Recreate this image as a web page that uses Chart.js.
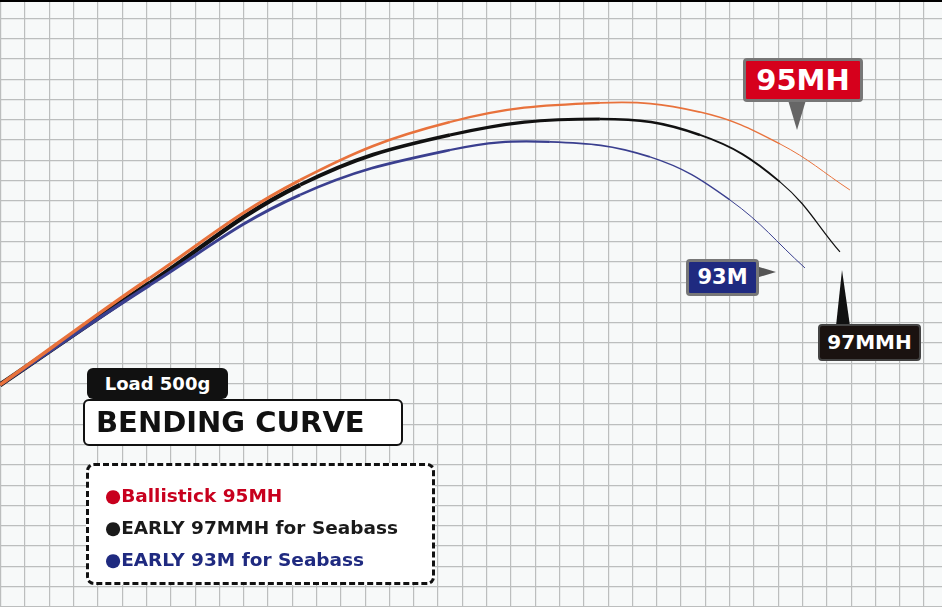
<!DOCTYPE html>
<html>
<head>
<meta charset="utf-8">
<script src="https://cdn.jsdelivr.net/npm/chart.js@4/dist/chart.umd.min.js"></script>
<style>
  body { margin: 0; background: #f7f9f9; font-family: "DejaVu Sans", sans-serif; }
  #wrap { position: relative; width: 942px; height: 607px; overflow: hidden; border-top: 2px solid #000; box-sizing: border-box; }
  .tag { position: absolute; color: #fff; font-weight: bold; text-align: center; border-radius: 4px; box-sizing: border-box; white-space: nowrap; }
  svg { position: absolute; left: 0; top: 0; }
</style>
</head>
<body>
<div id="wrap">
  <canvas id="myChart" width="942" height="605"></canvas>
  <svg width="942" height="607">
    <polygon points="788,98 806,98 797,128" fill="#666"/>
    <polygon points="756,264 756,276 776,270" fill="#555"/>
    <polygon points="836,324 850,324 842,268" fill="#111"/>
  </svg>
  <div class="tag" style="left:743px;top:56px;width:120px;height:44px;background:#d6001c;border:3px solid #777;font-size:29px;line-height:38px;">95MH</div>
  <div class="tag" style="left:686px;top:257px;width:73px;height:37px;background:#1f2a80;border:3px solid #777;font-size:21px;line-height:31px;">93M</div>
  <div class="tag" style="left:818px;top:322px;width:103px;height:37px;background:#1a1210;border:2px solid #444;font-size:20px;line-height:33px;">97MMH</div>
  <div class="tag" style="left:87px;top:366px;width:141px;height:31px;background:#111;border-radius:6px;font-size:18px;line-height:31px;">Load 500g</div>
  <div class="tag" style="left:83px;top:397px;width:320px;height:47px;background:#fff;border:2px solid #111;border-radius:6px;color:#111;font-size:29px;line-height:43px;text-align:left;padding-left:11px;">BENDING CURVE</div>
  <div style="position:absolute;left:86px;top:461px;width:349px;height:122px;border:3px dashed #111;border-radius:8px;background:#fff;box-sizing:border-box;font-weight:bold;font-size:18.5px;padding:14px 0 0 16px;line-height:32px;white-space:nowrap;">
    <div style="color:#c8001e;">●Ballistick 95MH</div>
    <div style="color:#1a1a1a;">●EARLY 97MMH for Seabass</div>
    <div style="color:#1f2a80;">●EARLY 93M for Seabass</div>
  </div>
</div>
<script>
// grid-cell units (x: 24.3px per cell, y: 20.3px per cell)
const xOrange = [0, 6.17, 12.35, 18.52, 24.69, 28.81, 32.10, 34.98];
const yOrange = [10.94, 16.21, 21.03, 23.89, 24.83, 24.38, 22.81, 20.54];

const xBlack = [0, 6.17, 12.35, 18.52, 24.69, 28.81, 32.10, 34.57];
const yBlack = [10.94, 15.96, 20.79, 23.25, 24.04, 23.25, 20.94, 17.49];

const xBlue = [0, 6.17, 12.35, 18.52, 22.63, 26.75, 30.04, 33.13];
const yBlue = [10.94, 15.86, 20.30, 22.51, 22.91, 22.17, 20.05, 16.70];

const toPts = (xs, ys) => xs.map((x, i) => ({ x: x, y: ys[i] }));

// grosor decrescente da vara
const taper = (w0, w1) => ctx => {
    const n = ctx.chart.data.datasets[ctx.datasetIndex].data.length;
    return w0 + (w1 - w0) * ctx.p0DataIndex / (n - 2);
};

const data = {
    datasets: [
        { data: toPts(xOrange, yOrange), borderColor: '#e8723c', segment: { borderWidth: taper(3.5, 1) } },
        { data: toPts(xBlue, yBlue), borderColor: '#3a3f8f', segment: { borderWidth: taper(3.5, 1) } },
        { data: toPts(xBlack, yBlack), borderColor: '#111111', segment: { borderWidth: taper(5, 1.2) } }
    ]
};

const gridTicks = (from, to, off) => axis => {
    axis.ticks = [];
    for (let v = from; v <= to; v++) axis.ticks.push({ value: v + off });
};

new Chart(document.getElementById('myChart'), {
    type: 'line',
    data: data,
    options: {
        responsive: false,
        animation: false,
        layout: { padding: 0 },
        elements: { point: { radius: 0 }, line: { tension: 0.4 } },
        scales: {
            x: {
                type: 'linear', min: 0, max: 38.77,
                afterBuildTicks: gridTicks(0, 38, 0.03),
                ticks: { display: false },
                grid: { color: '#bcbebe', lineWidth: 1.2, drawTicks: false },
                border: { display: false }
            },
            y: {
                type: 'linear', min: 0, max: 29.8,
                afterBuildTicks: gridTicks(0, 29, 0),
                ticks: { display: false },
                grid: { color: '#bcbebe', lineWidth: 1.2, drawTicks: false },
                border: { display: false }
            }
        },
        plugins: { legend: { display: false }, tooltip: { enabled: false } }
    }
});
</script>
</body>
</html>
